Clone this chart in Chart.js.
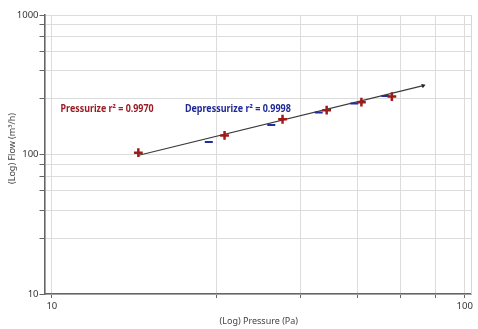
<!DOCTYPE html>
<html>
<head>
<meta charset="utf-8">
<script src="https://cdn.jsdelivr.net/npm/chart.js@4/dist/chart.umd.min.js"></script>
<style>
html,body{margin:0;padding:0;background:#fff;}
#wrap{width:478px;height:329px;position:relative;}
</style>
</head>
<body>
<div id="wrap"><canvas id="c" width="478" height="329"></canvas></div>
<script>
// ---- data ----
const pressurizeX = [16.2, 26.2, 36.2, 46.3, 56.2, 66.6];
const pressurizeY = [103, 137, 179, 208, 237, 260];
const depressurizeX = [24.0, 34.0, 44.3, 54.0, 64.2];
const depressurizeY = [123, 163, 200, 232, 263];
const fitX = [16.25, 79.3];
const fitY = [98.8, 312];
const xTickValues = [10, 25, 40, 55, 70, 85, 100];
const yTickValues = [10, 25, 40, 55, 70, 85, 100, 250, 400, 550, 700, 850, 1000];
const labeledTicks = [10, 100, 1000];
const pressurizeLabel = 'Pressurize r\u00B2 = 0.9970';
const depressurizeLabel = 'Depressurize r\u00B2 = 0.9998';
const xTitle = '(Log) Pressure (Pa)';
const yTitle = '(Log) Flow (m\u00B3/h)';

const toPts = (xs, ys) => xs.map((x, i) => ({x: x, y: ys[i]}));
const FONT = '"Noto Sans", "Open Sans", sans-serif';

const annot = {
  id: 'annot',
  afterDatasetsDraw(chart) {
    const ctx = chart.ctx, xs = chart.scales.x, ys = chart.scales.y, a = chart.chartArea;
    ctx.save();
    // right border
    ctx.strokeStyle = '#d6d6d6'; ctx.lineWidth = 1;
    ctx.beginPath(); ctx.moveTo(Math.round(a.right) + 0.5, a.top); ctx.lineTo(Math.round(a.right) + 0.5, a.bottom); ctx.stroke();
    ctx.font = 'bold 10px ' + FONT;
    ctx.textBaseline = 'middle'; ctx.textAlign = 'left';
    ctx.fillStyle = '#9b1c24';
    ctx.fillText(pressurizeLabel, xs.getPixelForValue(10.5), ys.getPixelForValue(212), 93);
    ctx.fillStyle = '#1f2a96';
    ctx.fillText(depressurizeLabel, xs.getPixelForValue(21.0), ys.getPixelForValue(212), 106);
    // axis titles
    ctx.font = '9px ' + FONT;
    ctx.fillStyle = '#444';
    ctx.textAlign = 'center';
    ctx.fillText(xTitle, (a.left + a.right) / 2 + 1, 321);
    ctx.translate(12, (a.top + a.bottom) / 2 - 6);
    ctx.rotate(-Math.PI / 2);
    ctx.fillText(yTitle, 0, 0);
    ctx.restore();
  }
};

function tickSetup(vals) {
  return function(scale) {
    scale.ticks = vals.map(v => ({value: v, major: labeledTicks.includes(v)}));
  };
}

new Chart(document.getElementById('c'), {
  type: 'scatter',
  data: {
    datasets: [
      {
        label: 'Fit',
        type: 'line',
        data: toPts(fitX, fitY),
        borderColor: '#3a3a3a',
        borderWidth: 1.2,
        pointRadius: [0, 2.6],
        pointStyle: 'triangle',
        pointRotation: 70,
        pointBackgroundColor: '#222',
        pointBorderColor: '#222',
        pointBorderWidth: 0,
        order: 3
      },
      {
        label: 'Depressurize',
        data: toPts(depressurizeX, depressurizeY),
        pointStyle: 'line',
        pointRadius: 4,
        borderColor: '#1f2f9f',
        backgroundColor: '#1f2f9f',
        pointBorderWidth: 2,
        order: 2
      },
      {
        label: 'Pressurize',
        data: toPts(pressurizeX, pressurizeY),
        pointStyle: 'cross',
        pointRadius: 4.4,
        borderColor: '#a01a1a',
        backgroundColor: '#a01a1a',
        pointBorderWidth: 2.5,
        order: 1
      }
    ]
  },
  options: {
    responsive: false,
    animation: false,
    devicePixelRatio: 1,
    layout: {padding: {top: 15, right: 6, left: 0, bottom: 0}},
    plugins: {legend: {display: false}, tooltip: {enabled: false}},
    scales: {
      x: {
        type: 'logarithmic',
        min: 9.6,
        max: 103.6,
        afterBuildTicks: tickSetup(xTickValues),
        afterFit(s) { s.height = 35; },
        grid: {color: '#dcdcdc', lineWidth: 1, drawTicks: true, tickLength: 4, tickColor: '#666'},
        border: {display: true, color: '#666', width: 1.6},
        ticks: {
          autoSkip: false, maxRotation: 0, padding: 3,
          color: '#333', font: {family: FONT, size: 9.5},
          callback: (v) => labeledTicks.includes(v) ? String(v) : ''
        }
      },
      y: {
        type: 'logarithmic',
        min: 10,
        max: 1000,
        afterBuildTicks: tickSetup(yTickValues),
        afterFit(s) { s.width = 44.5; },
        grid: {color: '#dcdcdc', lineWidth: 1, drawTicks: true, tickLength: 5, tickColor: '#666'},
        border: {display: true, color: '#666', width: 1.6},
        ticks: {
          autoSkip: false, padding: 1,
          color: '#333', font: {family: FONT, size: 9.5},
          callback: (v) => labeledTicks.includes(v) ? String(v) : ''
        }
      }
    }
  },
  plugins: [annot]
});
</script>
</body>
</html>
